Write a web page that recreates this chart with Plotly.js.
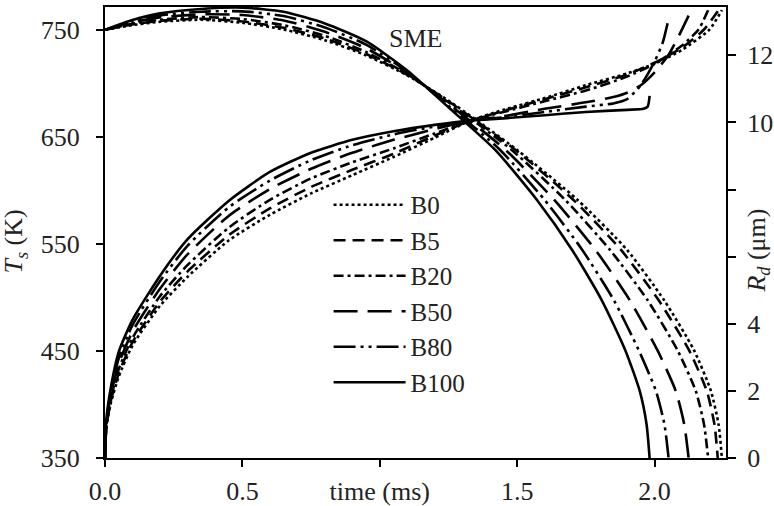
<!DOCTYPE html>
<html>
<head>
<meta charset="utf-8">
<script src="https://cdn.plot.ly/plotly-3.0.1.min.js"></script>
<style>html,body{margin:0;padding:0;background:#fff;}#chart{width:774px;height:506px;}</style>
</head>
<body>
<div id="chart"></div>
<script>
// ---- Surface temperature Ts (K), left axis ----
const B0_tTs   = [0,0.005,0.02,0.05,0.1,0.2,0.3,0.45,0.6,0.75,0.9,1.05,1.2,1.33,1.45,1.6,1.75,1.9,2.0,2.1,2.2,2.245];
const B0_Ts    = [350,378,400,426,455,492,519,553,577,597,614,631,649,665,675,686,698,709,718,731,750,768];
const B5_tTs   = [0,0.005,0.02,0.05,0.1,0.2,0.3,0.45,0.6,0.75,0.9,1.05,1.2,1.33,1.45,1.6,1.75,1.9,2.0,2.1,2.18,2.23];
const B5_Ts    = [350,379,402,429,458,496,524,558,583,603,619,634,651,665,674,685,696,708,719,733,750,767];
const B20_tTs  = [0,0.005,0.02,0.05,0.1,0.2,0.3,0.45,0.6,0.75,0.9,1.05,1.2,1.33,1.45,1.6,1.75,1.9,2.0,2.1,2.16,2.195];
const B20_Ts   = [350,380,404,433,462,501,530,565,591,611,626,639,653,665,673,683,693,706,718,735,750,768];
const B50_tTs  = [0,0.005,0.02,0.05,0.1,0.2,0.3,0.45,0.6,0.75,0.9,1.05,1.2,1.33,1.45,1.6,1.75,1.85,1.9,1.95,2.0,2.05,2.09,2.124];
const B50_Ts   = [350,382,407,438,468,508,540,576,601,620,635,647,657,665,669,676,682,687,691,698,710,726,745,763];
const B80_tTs  = [0,0.005,0.02,0.05,0.1,0.2,0.3,0.45,0.6,0.75,0.9,1.05,1.2,1.33,1.45,1.6,1.75,1.85,1.9,1.95,2.0,2.03,2.051];
const B80_Ts   = [350,384,410,443,474,515,548,584,609,628,642,652,659.5,665,668,673,678,681,685,698,720,738,760];
const B100_tTs = [0,0.005,0.02,0.05,0.1,0.2,0.3,0.45,0.6,0.75,0.9,1.05,1.2,1.33,1.45,1.6,1.75,1.9,1.96,1.975,1.982];
const B100_Ts  = [350,386,414,449,479,520,554,590,617,635,647,655,661,665,667,670,673,675,676,678,688];

// ---- Droplet radius Rd (um), right axis ----
const B0_tRd   = [0,0.1,0.2,0.35,0.5,0.65,0.8,0.95,1.1,1.25,1.5,1.72,1.9,2.035,2.143,2.205,2.233,2.245];
const B0_Rd    = [12.76,12.9,13.0,13.06,12.97,12.77,12.45,12.0,11.4,10.65,9.18,7.69,6.2,4.7,3.22,2.0,1.0,0];
const B5_tRd   = [0,0.1,0.2,0.35,0.5,0.65,0.8,0.95,1.1,1.25,1.494,1.705,1.878,2.015,2.125,2.19,2.218,2.23];
const B5_Rd    = [12.76,12.92,13.03,13.09,13.01,12.82,12.5,12.04,11.42,10.63,9.18,7.69,6.2,4.7,3.22,2.0,1.0,0];
const B20_tRd  = [0,0.1,0.2,0.35,0.5,0.65,0.8,0.95,1.1,1.25,1.48,1.675,1.838,1.975,2.083,2.15,2.18,2.195];
const B20_Rd   = [12.76,12.94,13.06,13.14,13.08,12.9,12.58,12.1,11.44,10.6,9.18,7.69,6.2,4.7,3.22,2.0,1.0,0];
const B50_tRd  = [0,0.1,0.2,0.35,0.5,0.65,0.8,0.95,1.1,1.25,1.458,1.635,1.785,1.91,2.01,2.077,2.108,2.124];
const B50_Rd   = [12.76,12.98,13.13,13.22,13.2,13.04,12.7,12.21,11.48,10.55,9.18,7.69,6.2,4.7,3.22,2.0,1.0,0];
const B80_tRd  = [0,0.1,0.2,0.35,0.5,0.65,0.8,0.95,1.1,1.25,1.438,1.6,1.737,1.852,1.942,2.005,2.036,2.051];
const B80_Rd   = [12.76,13.01,13.19,13.3,13.31,13.17,12.83,12.32,11.51,10.5,9.18,7.69,6.2,4.7,3.22,2.0,1.0,0];
const B100_tRd = [0,0.1,0.2,0.35,0.5,0.65,0.8,0.95,1.1,1.25,1.42,1.572,1.70,1.808,1.893,1.946,1.971,1.982];
const B100_Rd  = [12.76,13.05,13.25,13.38,13.42,13.3,12.95,12.42,11.55,10.45,9.18,7.69,6.2,4.7,3.22,2.0,1.0,0];

const seriesNames = ['B0','B5','B20','B50','B80','B100'];
const xTickVals = [0,0.5,1,1.5,2];
const xTickText = ['0.0','0.5','time (ms)','1.5','2.0'];
const yTickVals = [350,450,550,650,750];
const y2TickVals = [0,2,4,6,8,10,12];
const y2TickText = ['0','2','4','','','10','12'];

const tsT = [B0_tTs,B5_tTs,B20_tTs,B50_tTs,B80_tTs,B100_tTs];
const tsV = [B0_Ts,B5_Ts,B20_Ts,B50_Ts,B80_Ts,B100_Ts];
const rdT = [B0_tRd,B5_tRd,B20_tRd,B50_tRd,B80_tRd,B100_tRd];
const rdV = [B0_Rd,B5_Rd,B20_Rd,B50_Rd,B80_Rd,B100_Rd];
const dashes = ['3px,3px','12px,7px','10px,4px,3px,4px','24px,10px','22px,5px,3px,5px,3px,5px','solid'];

const FONT = 'Liberation Serif';
const TXT = '#222';
const traces = [];
for (let i = 0; i < seriesNames.length; i++) {
  traces.push({x: tsT[i], y: tsV[i], type: 'scatter', mode: 'lines', name: seriesNames[i],
    legendgroup: seriesNames[i], line: {color: '#000', width: 2.6, dash: dashes[i], shape: 'spline', smoothing: 0.6}, yaxis: 'y'});
}
for (let i = 0; i < seriesNames.length; i++) {
  traces.push({x: rdT[i], y: rdV[i], type: 'scatter', mode: 'lines', name: seriesNames[i],
    legendgroup: seriesNames[i], showlegend: false, line: {color: '#000', width: 2.6, dash: dashes[i], shape: 'spline', smoothing: 0.6}, yaxis: 'y2'});
}

const layout = {
  width: 774, height: 506,
  margin: {l: 105, r: 48, t: 7, b: 48},
  paper_bgcolor: '#fff', plot_bgcolor: '#fff',
  font: {family: FONT, size: 26, color: TXT},
  showlegend: true,
  legend: {x: 0.36, y: 0.612, xanchor: 'left', yanchor: 'top', bgcolor: 'rgba(0,0,0,0)',
    font: {family: FONT, size: 25, color: TXT}, tracegroupgap: 0, itemwidth: 72},
  xaxis: {range: [0, 2.26], tickvals: xTickVals, ticktext: xTickText, ticks: 'outside', ticklen: 7,
    tickwidth: 2, tickcolor: '#000', showline: true, linecolor: '#000', linewidth: 2, mirror: true,
    showgrid: false, zeroline: false, ticklabelstandoff: 2, tickfont: {family: FONT, size: 26, color: TXT}},
  yaxis: {range: [350, 771], tickvals: yTickVals, ticks: 'outside', ticklen: 7, tickwidth: 2, tickcolor: '#000',
    showline: true, linecolor: '#000', linewidth: 2, showgrid: false, zeroline: false, ticklabelstandoff: 11,
    tickfont: {family: FONT, size: 26, color: TXT}},
  yaxis2: {range: [0, 13.44], overlaying: 'y', side: 'right', tickvals: y2TickVals, ticktext: y2TickText,
    ticks: 'outside', ticklen: 8, tickwidth: 2, tickcolor: '#000', showline: true, linecolor: '#000', linewidth: 2,
    showgrid: false, zeroline: false, ticklabelstandoff: 6, tickfont: {family: FONT, size: 26, color: TXT}},
  annotations: [
    {text: 'SME', xref: 'paper', yref: 'paper', x: 0.5, y: 0.93, xanchor: 'center', yanchor: 'middle',
      showarrow: false, font: {family: FONT, size: 26, color: TXT}},
    {text: '<i>T<sub>s</sub></i> (K)', xref: 'paper', yref: 'paper', x: -0.145, y: 0.48, xanchor: 'center', yanchor: 'middle',
      textangle: -90, showarrow: false, font: {family: FONT, size: 26, color: TXT}},
    {text: '<i>R<sub>d</sub></i> (μm)', xref: 'paper', yref: 'paper', x: 1.05, y: 0.46, xanchor: 'center', yanchor: 'middle',
      textangle: -90, showarrow: false, font: {family: FONT, size: 26, color: TXT}}
  ]
};

Plotly.newPlot('chart', traces, layout, {displayModeBar: false, staticPlot: true});
</script>
</body>
</html>
